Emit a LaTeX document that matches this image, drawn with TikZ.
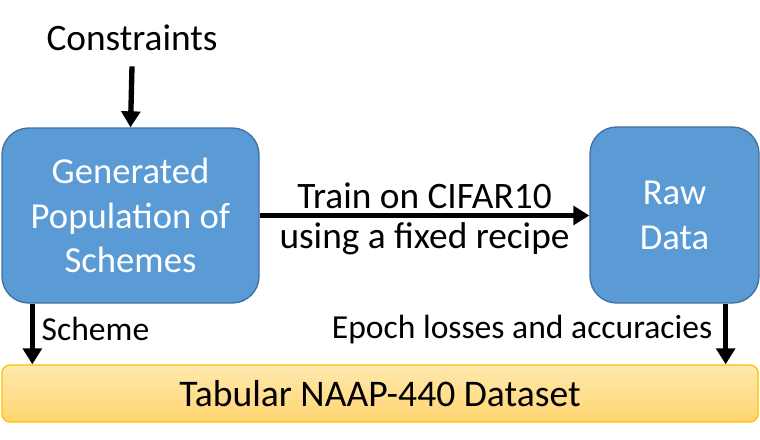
\documentclass[tikz,border=0pt]{standalone}
\usepackage{fontspec}
\setmainfont{Carlito}
\usetikzlibrary{arrows.meta,positioning}
\definecolor{boxblue}{RGB}{91,155,213}
\definecolor{boxedge}{RGB}{65,113,156}
\definecolor{bartop}{RGB}{255,233,175}
\definecolor{barbot}{RGB}{255,213,112}
\definecolor{baredge}{RGB}{255,192,0}
\tikzset{
  stage/.style={draw=boxedge, line width=1pt, fill=boxblue, rounded corners=20pt,
    text=white, align=center, font=\fontsize{27.5}{33.5}\selectfont, inner sep=0pt},
  flow/.style={line width=4pt, -{Triangle[width=14pt,length=12pt]}},
  caption/.style={font=\fontsize{28}{33.5}\selectfont, align=center},
  small/.style={font=\fontsize{25.2}{30}\selectfont}
}
\begin{document}
\begin{tikzpicture}[x=0.75pt,y=-0.75pt]
    \useasboundingbox (0,0) rectangle (760,439);
    \node[caption] (cons) at (132,38) {Constraints};
    \node[stage, minimum width=192.75pt, minimum height=131.25pt] (gen) at (130.5,215.5)
        {Generated\\Population of\\Schemes};
    \node[stage, minimum width=126.75pt, minimum height=132pt, text depth=-2pt] (raw) at (674.5,215)
        {Raw\\Data};
    \node[draw=baredge, line width=1pt, top color=bartop, bottom color=barbot,
        rounded corners=6pt, minimum width=567pt, minimum height=42.75pt,
        font=\fontsize{28.2}{33.5}\selectfont] (tab) at (380,393.5)
        {Tabular NAAP-440 Dataset};
    \draw[flow] ([yshift=-8pt]cons.south) -- (gen.north);
    \draw[flow] (gen.east) -- (raw.west |- gen.east)
        node[midway, above, caption] {Train on CIFAR10}
        node[midway, below, caption] {using a fixed recipe};
    \draw[flow] ([xshift=23.25pt]gen.south west) -- ([xshift=23.25pt]gen.south west |- tab.north)
        node[pos=0.42, right, small, inner sep=5pt] {Scheme};
    \draw[flow] ([xshift=-25.5pt]raw.south east) -- ([xshift=-25.5pt]raw.south east |- tab.north)
        node[pos=0.42, left, small, inner sep=8pt] {Epoch losses and accuracies};
\end{tikzpicture}
\end{document}
